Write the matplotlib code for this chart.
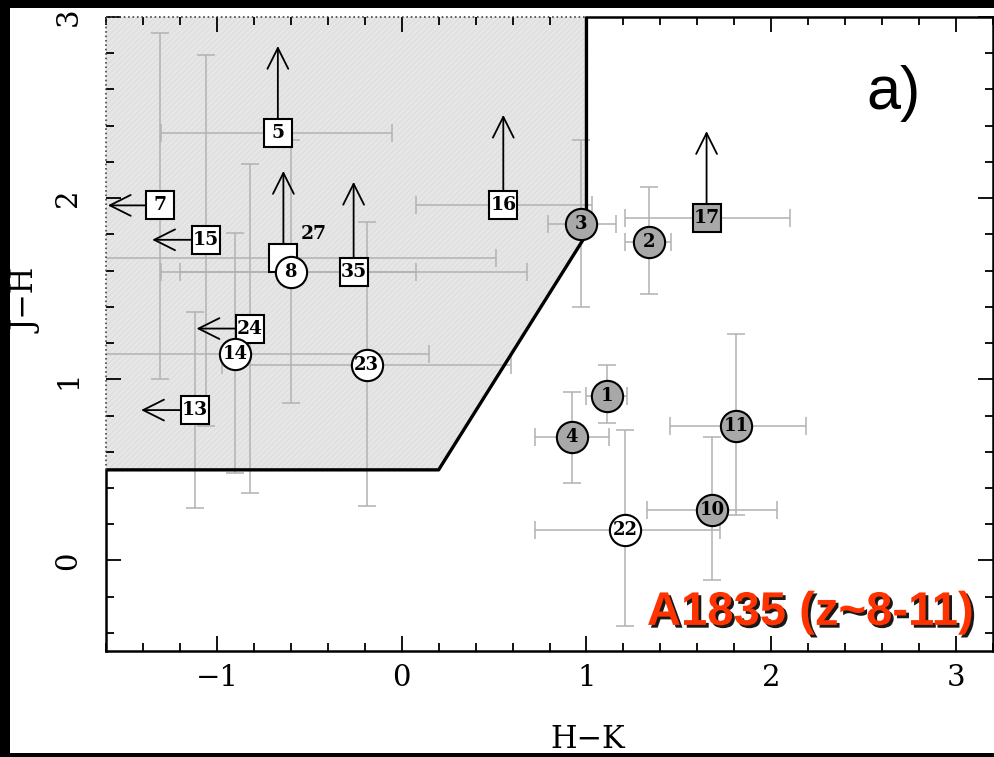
import matplotlib
matplotlib.use('Agg')
import matplotlib.pyplot as plt
import matplotlib.patheffects as pe
from matplotlib.patches import Rectangle, Polygon
import numpy as np

plt.rcParams['font.family'] = 'DejaVu Serif'
plt.rcParams['hatch.linewidth'] = 0.4

# circles (gray = selected candidates, white = the rest)
circ_ids = ['1', '2', '3', '4', '10', '11', '8', '14', '22', '23']
circ_hk = [1.11, 1.34, 0.97, 0.92, 1.68, 1.81, -0.60, -0.90, 1.21, -0.19]
circ_jh = [0.91, 1.76, 1.86, 0.68, 0.28, 0.74, 1.59, 1.14, 0.17, 1.08]
circ_hk_lo = [1.00, 1.21, 0.79, 0.72, 1.33, 1.45, -1.30, -1.95, 0.72, -0.97]
circ_hk_hi = [1.22, 1.46, 1.16, 1.12, 2.03, 2.19, 0.075, 0.146, 1.72, 0.59]
circ_jh_lo = [0.76, 1.47, 1.40, 0.43, -0.11, 0.25, 0.87, 0.48, -0.36, 0.30]
circ_jh_hi = [1.08, 2.06, 2.32, 0.93, 0.68, 1.25, 2.32, 1.81, 0.72, 1.87]
circ_gray = [True] * 6 + [False] * 4

# squares with lower limit in J-H (arrow up)
up_ids = ['5', '27', '35', '16', '17']
up_hk = [-0.67, -0.64, -0.26, 0.55, 1.65]
up_jh = [2.36, 1.67, 1.59, 1.96, 1.89]
up_hk_lo = [-1.30, -1.79, -1.20, 0.075, 1.21]
up_hk_hi = [-0.05, 0.51, 0.68, 1.03, 2.10]
up_tip = [2.84, 2.15, 2.09, 2.46, 2.37]
up_gray = [False, False, False, False, True]

# squares with upper limit in H-K (arrow left)
left_ids = ['7', '15', '24', '13']
left_hk = [-1.31, -1.06, -0.82, -1.12]
left_jh = [1.96, 1.77, 1.28, 0.83]
left_jh_lo = [1.00, 0.74, 0.37, 0.29]
left_jh_hi = [2.91, 2.79, 2.19, 1.37]
left_tip = [-1.59, -1.35, -1.11, -1.41]

# colour selection window
win_hk = [-1.6, 0.2, 1.0, 1.0]
win_jh = [0.5, 0.5, 1.8, 3.0]

GRAY = '#a8a8a8'
EBC = '#b2b2b2'

fig = plt.figure(figsize=(9.95, 7.57), dpi=100)
fig.patch.set_facecolor('black')
fig.add_artist(Rectangle((10/995, 4/757), 985/995, 745/757, transform=fig.transFigure,
                         facecolor='white', edgecolor='none', zorder=0))
ax = fig.add_axes([106/995, 106/757, 887/995, 634/757])
ax.set_xlim(-1.6, 3.2)
ax.set_ylim(-0.5, 3.0)

# shaded region
poly_x = win_hk + [win_hk[0]]
poly_y = win_jh + [win_jh[-1]]
ax.add_patch(Polygon(list(zip(poly_x, poly_y)), closed=True, facecolor='#e6e6e6',
                     edgecolor='#d6d6d6', hatch='//////', lw=0, zorder=0.5))
ax.plot(win_hk, win_jh, color='k', lw=2.4, zorder=2.5, solid_capstyle='butt')

ebkw = dict(fmt='none', ecolor=EBC, elinewidth=1.1, capsize=6.5, capthick=1.1, zorder=2)

# error bars
cx, cy = np.array(circ_hk), np.array(circ_jh)
ax.errorbar(cx, cy, xerr=[cx - np.array(circ_hk_lo), np.array(circ_hk_hi) - cx],
            yerr=[cy - np.array(circ_jh_lo), np.array(circ_jh_hi) - cy], **ebkw)
ux, uy = np.array(up_hk), np.array(up_jh)
ax.errorbar(ux, uy, xerr=[ux - np.array(up_hk_lo), np.array(up_hk_hi) - ux], **ebkw)
lx, ly = np.array(left_hk), np.array(left_jh)
ax.errorbar(lx, ly, yerr=[ly - np.array(left_jh_lo), np.array(left_jh_hi) - ly], **ebkw)

arrow = dict(arrowstyle='->,head_length=0.5,head_width=0.25', color='k', lw=1.3,
             shrinkA=0, shrinkB=0, mutation_scale=30)
for x, y, t in zip(up_hk, up_jh, up_tip):
    ax.annotate('', xy=(x, t), xytext=(x, y), arrowprops=arrow, zorder=3)
for x, y, t in zip(left_hk, left_jh, left_tip):
    ax.annotate('', xy=(t, y), xytext=(x, y), arrowprops=arrow, zorder=3)

lab = dict(ha='center', va='center', fontsize=13.5, fontweight='bold', zorder=7)

for ids, xs, ys, grays in [(up_ids, up_hk, up_jh, up_gray),
                           (left_ids, left_hk, left_jh, [False] * 4)]:
    for i, x, y, g in zip(ids, xs, ys, grays):
        ax.plot(x, y, 's', ms=20, mfc=GRAY if g else 'white', mec='k', mew=1.5, zorder=4)
        if i == '27':
            ax.text(-0.475, 1.80, i, **lab)
        else:
            ax.text(x, y, i, **lab)

for i, x, y, g in zip(circ_ids, circ_hk, circ_jh, circ_gray):
    ax.plot(x, y, 'o', ms=22.5, mfc=GRAY if g else 'white', mec='k', mew=1.5, zorder=5)
    ax.text(x, y, i, **dict(lab, fontsize=13))

# axes decoration
ax.set_xticks([-1, 0, 1, 2, 3])
ax.set_xticklabels(['\u22121', '0', '1', '2', '3'])
ax.set_yticks([0, 1, 2, 3])
ax.xaxis.set_minor_locator(matplotlib.ticker.MultipleLocator(0.2))
ax.yaxis.set_minor_locator(matplotlib.ticker.MultipleLocator(0.2))
ax.tick_params(which='both', direction='in', top=True, right=True, width=1.3, colors='k')
ax.tick_params(which='major', length=11)
ax.tick_params(which='minor', length=5.5)
ax.tick_params(axis='x', labelsize=21, pad=9)
ax.tick_params(axis='y', labelsize=21, pad=17)
for t in ax.get_yticklabels():
    t.set_rotation(90)
    t.set_va('center')

for s in ax.spines.values():
    s.set_linewidth(1.8)
ax.spines['left'].set_bounds(-0.5, 0.5)
ax.spines['top'].set_bounds(1.0, 3.2)
ax.plot([-1.6, -1.6], [0.5, 3.0], color='#444444', lw=1.2, ls=':', clip_on=False, zorder=6)
ax.plot([-1.6, 1.0], [3.0, 3.0], color='#444444', lw=1.2, ls=':', clip_on=False, zorder=6)

ax.set_xlabel('H\u2212K', fontsize=22)
ax.xaxis.set_label_coords(0.543, -0.14)
ax.xaxis.label.set_va('center')
ax.set_ylabel('J\u2212H', fontsize=22)
ax.yaxis.set_label_coords(-0.089, 0.552)
ax.yaxis.label.set_va('center')

ax.text(2.66, 2.58, 'a)', fontsize=44, family='Liberation Sans', ha='center', va='center')
ax.text(3.10, -0.356, 'A1835 (z~8-11)', fontsize=34, family='Liberation Sans',
        fontweight='bold', color='#ff3300', ha='right', va='baseline', zorder=8,
        path_effects=[pe.withSimplePatchShadow(offset=(2, -2), shadow_rgbFace='k', alpha=0.9)])

plt.savefig('out.png', dpi=100, facecolor=fig.get_facecolor())
